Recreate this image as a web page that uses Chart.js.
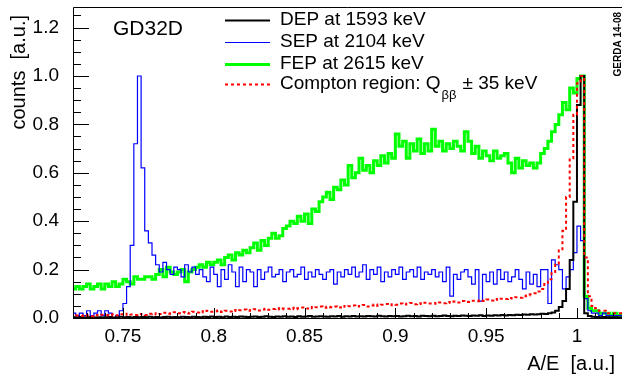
<!DOCTYPE html>
<html>
<head>
<meta charset="utf-8">
<script src="https://cdn.jsdelivr.net/npm/chart.js@4.4.1/dist/chart.umd.min.js"></script>
<style>
  html, body { margin: 0; padding: 0; background: #fff; }
  canvas { display: block; }
</style>
</head>
<body>
<canvas id="aeChart" width="623" height="375"></canvas>
<script>
// histogram binning (A/E), values are bin contents
const binStart = 0.722;
const binWidth = 0.002;

const xTicks = [0.75, 0.8, 0.85, 0.9, 0.95, 1.0];
const yTicks = [0, 0.2, 0.4, 0.6, 0.8, 1.0, 1.2];

const legendLabels = ['DEP at 1593 keV', 'SEP at 2104 keV', 'FEP at 2615 keV', 'Compton region: Q'];

const depValues = [
  0, 0.003, 0.002, 0.004, 0.002, 0.003, 0.004, 0.002, 0.003, 0.002,
  0.003, 0.004, 0.002, 0.003, 0.005, 0.003, 0.004, 0.002, 0.004, 0.003,
  0.004, 0.003, 0.005, 0.003, 0.004, 0.002, 0.004, 0.005, 0.003, 0.004,
  0.003, 0.005, 0.004, 0.003, 0.005, 0.004, 0.003, 0.005, 0.004, 0.006,
  0.004, 0.005, 0.003, 0.006, 0.004, 0.005, 0.004, 0.006, 0.005, 0.004,
  0.005, 0.006, 0.004, 0.005, 0.007, 0.005, 0.004, 0.006, 0.005, 0.007,
  0.005, 0.006, 0.004, 0.007, 0.005, 0.006, 0.008, 0.005, 0.006, 0.007,
  0.006, 0.005, 0.007, 0.006, 0.008, 0.005, 0.007, 0.006, 0.008, 0.006,
  0.007, 0.006, 0.008, 0.007, 0.006, 0.009, 0.007, 0.006, 0.008, 0.007,
  0.008, 0.006, 0.007, 0.009, 0.007, 0.008, 0.006, 0.009, 0.008, 0.007,
  0.009, 0.007, 0.008, 0.01, 0.008, 0.007, 0.009, 0.008, 0.01, 0.009,
  0.008, 0.01, 0.009, 0.011, 0.008, 0.01, 0.009, 0.011, 0.01, 0.012,
  0.01, 0.012, 0.011, 0.013, 0.012, 0.014, 0.013, 0.015, 0.014, 0.016,
  0.018, 0.017, 0.02, 0.023, 0.03, 0.045, 0.07, 0.12, 0.24, 0.48,
  0.88, 1.0, 0.02, 0.008, 0.005, 0.004, 0.003, 0.004, 0.003, 0.002, 0.003, 0.002
];

const sepValues = [
  0, 0.02, 0.01, 0.02, 0.01, 0.03, 0.01, 0.02, 0.03, 0.01,
  0.03, 0.02, 0.0, 0.01, 0.03, 0.06, 0.13, 0.3, 0.72, 1.0,
  0.62, 0.36, 0.31, 0.26, 0.22, 0.19, 0.23, 0.2, 0.18, 0.21,
  0.2, 0.17, 0.22, 0.19, 0.21, 0.18, 0.2, 0.17, 0.15, 0.21,
  0.18, 0.13, 0.2, 0.16, 0.22, 0.19, 0.13, 0.21, 0.15, 0.2,
  0.19, 0.13, 0.2, 0.16, 0.19, 0.21, 0.17, 0.18, 0.2, 0.15,
  0.19, 0.2, 0.17, 0.18, 0.21, 0.16, 0.19, 0.17, 0.2, 0.18,
  0.16, 0.19, 0.2, 0.14, 0.19, 0.17, 0.2, 0.18, 0.21, 0.17,
  0.19, 0.22, 0.16, 0.2, 0.18, 0.21, 0.15, 0.19, 0.17, 0.2,
  0.18, 0.21, 0.16, 0.19, 0.2, 0.17, 0.21, 0.16, 0.19, 0.18,
  0.2, 0.17, 0.19, 0.15, 0.21, 0.09, 0.18, 0.16, 0.19, 0.2,
  0.17, 0.14, 0.2, 0.07, 0.18, 0.15, 0.19, 0.14, 0.2, 0.16,
  0.19, 0.15, 0.17, 0.2, 0.16, 0.12, 0.19, 0.14, 0.18, 0.13,
  0.2, 0.2, 0.06, 0.24, 0.22, 0.2, 0.12, 0.17, 0.2, 0.27,
  0.38, 0.32, 0.08, 0.03, 0.02, 0.02, 0.01, 0.02, 0.01, 0.01, 0.01, 0.01
];

const fepValues = [
  0, 0.12, 0.13, 0.12, 0.13, 0.14, 0.12, 0.13, 0.14, 0.12,
  0.14, 0.13, 0.15, 0.13, 0.14, 0.16, 0.15, 0.14, 0.17, 0.16,
  0.16, 0.17, 0.17, 0.16, 0.18, 0.2, 0.17, 0.21, 0.19, 0.18,
  0.19, 0.2, 0.15, 0.19, 0.2, 0.21, 0.22, 0.21, 0.23, 0.22,
  0.23, 0.24, 0.22, 0.25, 0.26, 0.24, 0.27, 0.26, 0.28, 0.27,
  0.29, 0.31, 0.28, 0.32, 0.3, 0.33, 0.35, 0.33, 0.34, 0.37,
  0.38, 0.4, 0.39, 0.42, 0.4, 0.43, 0.39, 0.45, 0.44, 0.48,
  0.5, 0.52, 0.49, 0.54, 0.53, 0.57, 0.55, 0.63, 0.58, 0.6,
  0.66, 0.61, 0.63, 0.6, 0.65, 0.63, 0.67, 0.64, 0.68, 0.66,
  0.76, 0.71, 0.73, 0.66, 0.72, 0.69, 0.74, 0.68, 0.72, 0.69,
  0.78, 0.71, 0.73, 0.69, 0.72, 0.7, 0.73, 0.71, 0.69, 0.77,
  0.73, 0.68, 0.71, 0.66, 0.69, 0.67, 0.65, 0.69, 0.66, 0.67,
  0.68, 0.64, 0.6, 0.66, 0.62, 0.65, 0.63, 0.64, 0.62, 0.64,
  0.68, 0.7, 0.73, 0.77, 0.8, 0.84, 0.89, 0.86, 0.95, 0.93,
  0.99, 1.0, 0.09, 0.04, 0.03, 0.03, 0.02, 0.02, 0.02, 0.01, 0.02, 0.01
];

const comptonValues = [
  0, 0.008, 0.01, 0.008, 0.012, 0.01, 0.007, 0.012, 0.01, 0.013,
  0.012, 0.01, 0.015, 0.011, 0.016, 0.013, 0.018, 0.014, 0.012, 0.017,
  0.015, 0.012, 0.018, 0.02, 0.014, 0.017, 0.022, 0.018, 0.02, 0.024,
  0.02, 0.025, 0.022, 0.019, 0.026, 0.023, 0.028, 0.024, 0.03, 0.026,
  0.028, 0.031, 0.025, 0.03, 0.027, 0.033, 0.029, 0.032, 0.035, 0.03,
  0.033, 0.036, 0.031, 0.035, 0.038, 0.034, 0.037, 0.04, 0.035, 0.039,
  0.038, 0.042, 0.036, 0.04, 0.043, 0.039, 0.045, 0.04, 0.044, 0.047,
  0.042, 0.046, 0.044, 0.048, 0.043, 0.05, 0.046, 0.049, 0.052, 0.047,
  0.05, 0.054, 0.048, 0.052, 0.056, 0.051, 0.055, 0.058, 0.053, 0.057,
  0.055, 0.06, 0.056, 0.059, 0.062, 0.057, 0.061, 0.058, 0.063, 0.06,
  0.062, 0.059, 0.064, 0.061, 0.066, 0.063, 0.068, 0.064, 0.07, 0.067,
  0.066, 0.071, 0.069, 0.073, 0.07, 0.076, 0.072, 0.078, 0.075, 0.08,
  0.078, 0.083, 0.081, 0.086, 0.084, 0.09, 0.093, 0.098, 0.102, 0.11,
  0.12, 0.14, 0.16, 0.19, 0.22, 0.28, 0.36, 0.5, 0.66, 0.84,
  0.97, 1.0, 0.25, 0.09, 0.05, 0.04, 0.03, 0.03, 0.02, 0.02, 0.02, 0.02
];

const FONT = '"Liberation Sans", Arial, Helvetica, sans-serif';

// bin contents -> step points at the left bin edges (plus closing edge)
function toSteps(vals) {
  const pts = vals.map((v, i) => ({ x: binStart + i * binWidth, y: v }));
  pts.push({ x: binStart + vals.length * binWidth, y: vals[vals.length - 1] });
  return pts;
}

const series = [
  { label: legendLabels[0], data: depValues, color: '#000000', width: 2, dash: [], order: 1 },
  { label: legendLabels[1], data: sepValues, color: '#0000ff', width: 1.2, dash: [], order: 2 },
  { label: legendLabels[2], data: fepValues, color: '#00ff00', width: 3, dash: [], order: 3 },
  { label: legendLabels[3], data: comptonValues, color: '#ff0000', width: 2, dash: [3, 3], order: 0 }
];

// keep the plot frame where the original has it
function noEdgePadding(s) {
  s.paddingTop = 0;
  s.paddingBottom = 0;
  s.paddingLeft = 0;
  s.paddingRight = 0;
}

const rootFrame = {
  id: 'rootFrame',
  afterDatasetsDraw(chart) {
    const ctx = chart.ctx;
    const a = chart.chartArea;
    const xs = chart.scales.x, ys = chart.scales.y;
    ctx.save();
    ctx.strokeStyle = '#000';
    ctx.lineWidth = 1;
    ctx.setLineDash([]);
    // frame
    ctx.beginPath();
    ctx.moveTo(a.left + 0.5, a.bottom + 0.5);
    ctx.lineTo(a.left + 0.5, a.top + 0.5);
    ctx.lineTo(a.right, a.top + 0.5);
    ctx.moveTo(a.left, a.bottom + 0.5);
    ctx.lineTo(a.right, a.bottom + 0.5);
    ctx.stroke();

    // y ticks, inward
    ctx.beginPath();
    for (let v = 0; v <= ys.max + 1e-9; v += 0.05) {
      const py = Math.round(ys.getPixelForValue(v)) + 0.5;
      const major = Math.abs(v / 0.2 - Math.round(v / 0.2)) < 1e-6;
      ctx.moveTo(a.left, py);
      ctx.lineTo(a.left + (major ? 16 : 8), py);
    }
    // x ticks, inward
    for (let k = 73; k <= 102; k++) {
      const v = k / 100;
      if (v < xs.min || v > xs.max) continue;
      const px = Math.round(xs.getPixelForValue(v)) + 0.5;
      const major = k % 5 === 0;
      ctx.moveTo(px, a.bottom);
      ctx.lineTo(px, a.bottom - (major ? 10 : 5));
    }
    ctx.stroke();
    ctx.restore();
  },
  afterDraw(chart) {
    const ctx = chart.ctx;
    ctx.save();
    ctx.fillStyle = '#000';

    // axis titles
    ctx.font = '20px ' + FONT;
    ctx.textAlign = 'right';
    ctx.textBaseline = 'middle';
    ctx.fillText('A/E  [a.u.]', 615, 364);
    ctx.save();
    ctx.translate(19, 15);
    ctx.rotate(-Math.PI / 2);
    ctx.fillText('counts  [a.u.]', 0, 0);
    ctx.restore();

    // detector name
    ctx.font = '21px ' + FONT;
    ctx.textAlign = 'left';
    ctx.fillText('GD32D', 113, 29);

    // legend
    const rowY = [20, 42, 64, 84];
    ctx.font = '19px ' + FONT;
    series.forEach((s, i) => {
      ctx.save();
      ctx.strokeStyle = s.color;
      ctx.lineWidth = s.width;
      ctx.setLineDash(s.dash);
      ctx.beginPath();
      ctx.moveTo(225, rowY[i] + 0.5);
      ctx.lineTo(270, rowY[i] + 0.5);
      ctx.stroke();
      ctx.restore();
      ctx.fillText(s.label, 280, rowY[i]);
    });
    let x = 280 + ctx.measureText(legendLabels[3]).width + 1;
    ctx.font = '13px ' + FONT;
    ctx.fillText('\u03b2\u03b2', x, rowY[3] + 11);
    x += ctx.measureText('\u03b2\u03b2').width + 6;
    ctx.font = '19px ' + FONT;
    ctx.fillText('\u00b1 35 keV', x, rowY[3]);

    // stamp
    ctx.font = 'bold 10px ' + FONT;
    ctx.textAlign = 'right';
    ctx.save();
    ctx.translate(618, 12);
    ctx.rotate(-Math.PI / 2);
    ctx.fillText('GERDA 14-08', 0, 0);
    ctx.restore();
    ctx.restore();
  }
};

new Chart(document.getElementById('aeChart').getContext('2d'), {
  type: 'line',
  data: {
    datasets: series.map(s => ({
      label: s.label,
      data: toSteps(s.data),
      borderColor: s.color,
      borderWidth: s.width,
      borderDash: s.dash,
      stepped: 'after',
      pointRadius: 0,
      fill: false,
      order: s.order
    }))
  },
  options: {
    responsive: false,
    animation: false,
    layout: { padding: { left: 0, top: 7, right: 1, bottom: 0 } },
    plugins: {
      legend: { display: false },
      tooltip: { enabled: false }
    },
    scales: {
      x: {
        type: 'linear',
        min: 0.7225,
        max: 1.0248,
        afterBuildTicks: s => { s.ticks = xTicks.map(v => ({ value: v })); },
        afterFit: s => { s.height = 57; noEdgePadding(s); },
        grid: { display: false, drawTicks: false },
        border: { display: false },
        ticks: {
          color: '#000',
          font: { family: FONT, size: 19 },
          padding: 7,
          maxRotation: 0,
          autoSkip: false,
          callback: v => String(Number(v.toFixed(2)))
        }
      },
      y: {
        type: 'linear',
        min: 0,
        max: 1.285,
        afterBuildTicks: s => { s.ticks = yTicks.map(v => ({ value: v })); },
        afterFit: s => { s.width = 73; noEdgePadding(s); },
        grid: { display: false, drawTicks: false },
        border: { display: false },
        ticks: {
          color: '#000',
          font: { family: FONT, size: 19 },
          padding: 14,
          autoSkip: false,
          callback: v => v.toFixed(1)
        }
      }
    }
  },
  plugins: [rootFrame]
});
</script>
</body>
</html>
